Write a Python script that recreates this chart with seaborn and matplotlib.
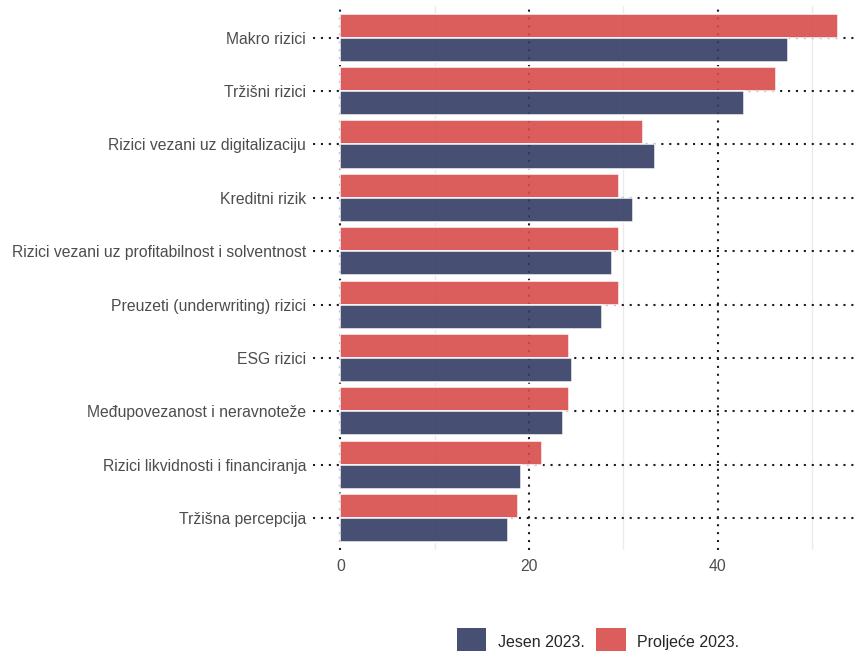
import pandas as pd
import matplotlib
matplotlib.use("Agg")
import matplotlib.pyplot as plt
from matplotlib.patches import Patch
from matplotlib.ticker import MultipleLocator
import seaborn as sns


# data
rizici = [
    "Makro rizici",
    "Tržišni rizici",
    "Rizici vezani uz digitalizaciju",
    "Kreditni rizik",
    "Rizici vezani uz profitabilnost i solventnost",
    "Preuzeti (underwriting) rizici",
    "ESG rizici",
    "Međupovezanost i neravnoteže",
    "Rizici likvidnosti i financiranja",
    "Tržišna percepcija",
]
jesen = [47.5, 42.8, 33.4, 31.0, 28.8, 27.8, 24.6, 23.6, 19.2, 17.8]
proljece = [52.8, 46.2, 32.1, 29.5, 29.6, 29.6, 24.2, 24.3, 21.4, 18.8]
razdoblja = ["Jesen 2023.", "Proljeće 2023."]

boje = {"Jesen 2023.": "#333C63", "Proljeće 2023.": "#D74B4A"}

df = pd.DataFrame({"rizik": rizici, "Jesen 2023.": jesen, "Proljeće 2023.": proljece})
df = df.melt(id_vars="rizik", var_name="razdoblje", value_name="vrijednost")

sns.set_style("white")
plt.rcParams["font.family"] = ["Liberation Sans", "DejaVu Sans"]

fig = plt.figure(figsize=(8.58, 6.51), dpi=100)
ax = fig.add_axes([0.3648, 0.1547, 0.6352, 0.8366])

sns.barplot(
    data=df, x="vrijednost", y="rizik", hue="razdoblje",
    hue_order=["Proljeće 2023.", "Jesen 2023."], order=rizici,
    palette=boje, saturation=1, orient="h", width=0.9, alpha=0.9,
    edgecolor="white", linewidth=1.2, legend=False, ax=ax,
)

ax.set_xlim(-2.9, 54.9)
ax.set_ylim(9.6, -0.6)
ax.xaxis.set_major_locator(MultipleLocator(20))
ax.xaxis.set_minor_locator(MultipleLocator(10))
ax.set_axisbelow(True)

dots = (0, (1.0, 2.8))
ax.grid(True, which="major", axis="both", color="#1A1C2A", linestyle=dots, linewidth=1.5)
ax.grid(True, which="minor", axis="x", color="#EBEBEB", linestyle="-", linewidth=1.0)

for s in ax.spines.values():
    s.set_visible(False)

ax.tick_params(axis="both", which="both", length=0, labelsize=11.3, labelcolor="#4D4D4D")
ax.tick_params(axis="y", pad=5)
ax.tick_params(axis="x", pad=6)
ax.set_xlabel("")
ax.set_ylabel("")

handles = [Patch(facecolor=boje[r], alpha=0.9, edgecolor="none") for r in razdoblja]
fig.legend(
    handles, razdoblja, loc="upper center", bbox_to_anchor=(0.697, 0.0358),
    ncol=2, frameon=False, fontsize=11.5, borderpad=0, borderaxespad=0,
    handlelength=1.85, handleheight=2.5, handletextpad=0.7, columnspacing=0.75,
)

fig.savefig("out.png", dpi=100)
